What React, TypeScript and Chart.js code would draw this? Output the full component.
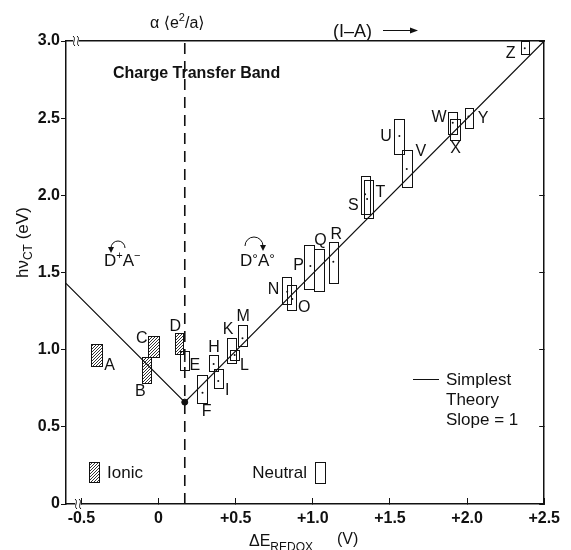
import React, { useEffect, useRef } from 'react';
import { Chart, registerables } from 'chart.js';

Chart.register(...registerables);

const FONT = '"Liberation Sans", Arial, Helvetica, "DejaVu Sans", sans-serif';

// ---- data ----
const boxNames = ['A', 'B', 'C', 'D', 'E', 'F', 'H', 'I', 'K', 'L', 'M', 'N', 'O', 'P', 'Q', 'R', 'S', 'T', 'U', 'V', 'W', 'X', 'Y', 'Z'];
const boxIonic = [true, true, true, true, false, false, false, false, false, false, false, false, false, false, false, false, false, false, false, false, false, false, false, false];
const boxXLow = [-0.436, -0.108, -0.066, 0.104, 0.136, 0.251, 0.327, 0.359, 0.444, 0.466, 0.515, 0.802, 0.834, 0.946, 1.008, 1.108, 1.314, 1.333, 1.529, 1.580, 1.875, 1.888, 1.985, 2.349];
const boxXHigh = [-0.368, -0.049, 0.006, 0.159, 0.200, 0.317, 0.387, 0.419, 0.499, 0.521, 0.574, 0.859, 0.893, 1.006, 1.070, 1.165, 1.371, 1.390, 1.594, 1.645, 1.932, 1.956, 2.041, 2.400];
const boxYLow = [0.894, 0.786, 0.955, 0.970, 0.866, 0.653, 0.860, 0.752, 0.912, 0.933, 1.024, 1.296, 1.257, 1.395, 1.382, 1.432, 1.879, 1.853, 2.266, 2.053, 2.398, 2.359, 2.439, 2.914];
const boxYHigh = [1.039, 0.955, 1.091, 1.106, 0.994, 0.836, 0.968, 0.873, 1.074, 0.998, 1.160, 1.473, 1.419, 1.677, 1.655, 1.698, 2.126, 2.100, 2.495, 2.294, 2.542, 2.493, 2.568, 3.000];
const labelX = [-0.317, -0.118, -0.108, 0.108, 0.235, 0.311, 0.359, 0.445, 0.451, 0.557, 0.548, 0.746, 0.944, 0.908, 1.050, 1.152, 1.263, 1.438, 1.475, 1.700, 1.818, 1.925, 2.103, 2.282];
const labelY = [0.899, 0.730, 1.071, 1.149, 0.896, 0.601, 1.011, 0.736, 1.131, 0.896, 1.214, 1.389, 1.275, 1.546, 1.708, 1.745, 1.935, 2.016, 2.380, 2.281, 2.502, 2.305, 2.496, 2.920];

const dotX = [0.170, 0.285, 0.357, 0.387, 0.493, 0.544, 0.834, 0.867, 0.984, 1.133, 1.339, 1.352, 1.561, 1.609, 1.907, 2.009, 2.374];
const dotY = [0.927, 0.721, 0.907, 0.797, 0.966, 1.074, 1.376, 1.329, 1.542, 1.570, 2.007, 1.977, 2.385, 2.171, 2.471, 2.510, 2.953];

const theoryX = [-0.6, 0.17, 2.5];
const theoryY = [1.43, 0.66, 3.0];
const minPointX = [0.17];
const minPointY = [0.66];
const alphaX = [0.17, 0.17];
const alphaY = [0, 3.02];

const xTicks = [-0.5, 0, 0.5, 1.0, 1.5, 2.0, 2.5];
const xTickLabels = ['-0.5', '0', '+0.5', '+1.0', '+1.5', '+2.0', '+2.5'];
const yTicks = [0, 0.5, 1.0, 1.5, 2.0, 2.5, 3.0];
const yTickLabels = ['0', '0.5', '1.0', '1.5', '2.0', '2.5', '3.0'];

const X_MIN = -0.6;
const X_MAX = 2.5;
const Y_MIN = 0;
const Y_MAX = 3.0;

// ---- helpers ----
function font(size: number, bold = false) {
  return `${bold ? 'bold ' : ''}${size}px ${FONT}`;
}

function makeHatch(ctx: CanvasRenderingContext2D) {
  const c = document.createElement('canvas');
  c.width = 3;
  c.height = 3;
  const g = c.getContext('2d')!;
  g.strokeStyle = '#333';
  g.lineWidth = 1;
  g.beginPath();
  g.moveTo(0, 3); g.lineTo(3, 0);
  g.moveTo(-1, 1); g.lineTo(1, -1);
  g.moveTo(2, 4); g.lineTo(4, 2);
  g.stroke();
  return ctx.createPattern(c, 'repeat');
}

function drawBox(ctx: CanvasRenderingContext2D, x1: number, y1: number, x2: number, y2: number, ionic: boolean, hatch: CanvasPattern | null) {
  const l = Math.round(Math.min(x1, x2)) + 0.5;
  const r = Math.round(Math.max(x1, x2)) + 0.5;
  const t = Math.round(Math.min(y1, y2)) + 0.5;
  const b = Math.round(Math.max(y1, y2)) + 0.5;
  if (ionic && hatch) {
    ctx.fillStyle = hatch;
    ctx.fillRect(l, t, r - l, b - t);
  }
  ctx.strokeStyle = '#111';
  ctx.lineWidth = 1;
  ctx.strokeRect(l, t, r - l, b - t);
}

// draw a run of [text, size, dy] pieces starting at x (alphabetic baseline y)
function runs(ctx: CanvasRenderingContext2D, x: number, y: number, pieces: [string, number, number][], bold = false) {
  ctx.textAlign = 'left';
  ctx.textBaseline = 'alphabetic';
  let cx = x;
  for (const [s, size, dy] of pieces) {
    ctx.font = font(size, bold);
    ctx.fillText(s, cx, y + dy);
    cx += ctx.measureText(s).width;
  }
  return cx;
}

function arcArrow(ctx: CanvasRenderingContext2D, cx: number, cy: number, r: number, headAtLeft: boolean) {
  ctx.strokeStyle = '#111';
  ctx.lineWidth = 1;
  ctx.beginPath();
  ctx.arc(cx, cy, r, Math.PI, 0, false);
  ctx.stroke();
  const hx = headAtLeft ? cx - r : cx + r;
  const hy = cy + 1;
  ctx.fillStyle = '#111';
  ctx.beginPath();
  ctx.moveTo(hx - 3, hy - 2);
  ctx.lineTo(hx + 3, hy - 2);
  ctx.lineTo(hx, hy + 4);
  ctx.closePath();
  ctx.fill();
}

function breakMark(ctx: CanvasRenderingContext2D, x: number, y: number) {
  ctx.fillStyle = '#fff';
  ctx.fillRect(x - 1, y - 2, 6, 4);
  ctx.strokeStyle = '#111';
  ctx.lineWidth = 1;
  for (const dx of [0, 4]) {
    ctx.beginPath();
    ctx.moveTo(x + dx - 1, y - 5);
    ctx.bezierCurveTo(x + dx + 3, y - 2, x + dx - 3, y + 2, x + dx + 1, y + 5);
    ctx.stroke();
  }
}

const boxesPlugin = {
  id: 'boxes',
  beforeDatasetsDraw(chart: any) {
    const { ctx, scales } = chart;
    const xs = scales.x;
    const ys = scales.y;
    const hatch = makeHatch(ctx);
    ctx.save();
    for (let i = 0; i < boxNames.length; i++) {
      drawBox(
        ctx,
        xs.getPixelForValue(boxXLow[i]),
        ys.getPixelForValue(boxYLow[i]),
        xs.getPixelForValue(boxXHigh[i]),
        ys.getPixelForValue(boxYHigh[i]),
        boxIonic[i],
        hatch,
      );
    }
    ctx.restore();
  },
};

const annotationsPlugin = {
  id: 'annotations',
  afterDraw(chart: any) {
    const { ctx, scales, chartArea } = chart;
    const xs = scales.x;
    const ys = scales.y;
    const L = chartArea.left;
    const T = chartArea.top;
    const B = chartArea.bottom;
    ctx.save();
    ctx.fillStyle = '#111';

    // compound labels
    ctx.font = font(16);
    ctx.textAlign = 'center';
    ctx.textBaseline = 'middle';
    for (let i = 0; i < boxNames.length; i++) {
      ctx.fillText(boxNames[i], xs.getPixelForValue(labelX[i]), ys.getPixelForValue(labelY[i]));
    }

    // titles inside / above plot
    runs(ctx, 113, 78, [['Charge Transfer Band', 16, 0]], true);
    runs(ctx, 150, 28, [['α \u27E8e', 16, 0], ['2', 11, -7], ['/a\u27E9', 16, 0]]);
    runs(ctx, 333, 37, [['(I\u2013A)', 18, 0]]);
    ctx.strokeStyle = '#111';
    ctx.lineWidth = 1;
    ctx.beginPath();
    ctx.moveTo(383, 30.5);
    ctx.lineTo(412, 30.5);
    ctx.stroke();
    ctx.beginPath();
    ctx.moveTo(418, 30.5);
    ctx.lineTo(410, 27.5);
    ctx.lineTo(410, 33.5);
    ctx.closePath();
    ctx.fill();

    // D+A- and D°A°
    runs(ctx, 104, 266, [['D', 17, 0], ['+', 11, -7], ['A', 17, 0], ['\u2212', 11, -7]]);
    arcArrow(ctx, 118, 248, 7, true);
    runs(ctx, 240, 266, [['D', 17, 0], ['°', 14, -2], ['A', 17, 0], ['°', 14, -2]]);
    arcArrow(ctx, 254, 246, 9, false);

    // theory legend
    ctx.beginPath();
    ctx.moveTo(413, 379.5);
    ctx.lineTo(439, 379.5);
    ctx.lineWidth = 1;
    ctx.stroke();
    ctx.font = font(17);
    ctx.textAlign = 'left';
    ctx.textBaseline = 'middle';
    ctx.fillText('Simplest', 446, 380);
    ctx.fillText('Theory', 446, 400);
    ctx.fillText('Slope = 1', 446, 420);

    // ionic / neutral legend
    const hatch = makeHatch(ctx);
    drawBox(ctx, 89, 462, 99, 482, true, hatch);
    ctx.fillStyle = '#111';
    ctx.font = font(17);
    ctx.textAlign = 'left';
    ctx.textBaseline = 'middle';
    ctx.fillText('Ionic', 107, 473);
    ctx.textAlign = 'right';
    ctx.fillText('Neutral', 307, 473);
    drawBox(ctx, 315, 462, 325, 483, false, null);

    // axis breaks
    breakMark(ctx, L + 8, T);
    breakMark(ctx, L + 10, B);

    // y axis title (rotated)
    ctx.save();
    ctx.translate(28, 278);
    ctx.rotate(-Math.PI / 2);
    ctx.fillStyle = '#111';
    runs(ctx, 0, 0, [['hν', 17, 0], ['CT', 12, 4], [' (eV)', 17, 0]]);
    ctx.restore();

    // x axis title
    ctx.fillStyle = '#111';
    runs(ctx, 249, 546, [['ΔE', 16, 0], ['REDOX', 12, 5]]);
    runs(ctx, 337, 544, [['(V)', 16, 0]]);

    ctx.restore();
  },
};

export default function App() {
  const ref = useRef<HTMLCanvasElement>(null);

  useEffect(() => {
    const canvas = ref.current;
    if (!canvas) return;

    const axisColor = '#111';
    const chart = new Chart(canvas, {
      type: 'scatter',
      data: {
        datasets: [
          {
            label: 'Simplest Theory',
            data: theoryX.map((x, i) => ({ x, y: theoryY[i] })),
            showLine: true,
            borderColor: '#111',
            borderWidth: 1.2,
            pointRadius: 0,
            fill: false,
          },
          {
            label: 'alpha',
            data: alphaX.map((x, i) => ({ x, y: alphaY[i] })),
            showLine: true,
            borderColor: '#111',
            borderWidth: 1.6,
            borderDash: [11, 7],
            pointRadius: 0,
            fill: false,
            clip: false as any,
          },
          {
            label: 'min',
            data: minPointX.map((x, i) => ({ x, y: minPointY[i] })),
            pointRadius: 3,
            backgroundColor: '#111',
            borderColor: '#111',
          },
          {
            label: 'centres',
            data: dotX.map((x, i) => ({ x, y: dotY[i] })),
            pointRadius: 1,
            backgroundColor: '#111',
            borderColor: '#111',
            borderWidth: 0,
          },
        ],
      },
      options: {
        responsive: false,
        animation: false,
        devicePixelRatio: 1,
        layout: { padding: { left: 0, right: 18, top: 41, bottom: 0 } },
        plugins: {
          legend: { display: false },
          tooltip: { enabled: false },
        },
        scales: {
          x: {
            type: 'linear',
            position: 'bottom',
            min: X_MIN,
            max: X_MAX,
            afterBuildTicks: (s: any) => { s.ticks = xTicks.map((v) => ({ value: v })); },
            afterFit: (s: any) => { s.height = 46; },
            ticks: {
              autoSkip: false,
              maxRotation: 0,
              padding: 11,
              color: axisColor,
              font: { family: FONT, size: 16, weight: 'bold' },
              callback: (v: any) => {
                const i = xTicks.indexOf(Number(v));
                return i >= 0 ? xTickLabels[i] : '';
              },
            },
            grid: { display: true, drawOnChartArea: false, drawTicks: true, tickLength: -6, color: axisColor, lineWidth: 1 },
            border: { display: true, color: axisColor, width: 1.5 },
          },
          x2: {
            type: 'linear',
            position: 'top',
            min: X_MIN,
            max: X_MAX,
            afterFit: (s: any) => { s.height = 0; },
            ticks: { display: false },
            grid: { display: false },
            border: { display: true, color: axisColor, width: 1.5 },
          },
          y: {
            type: 'linear',
            position: 'left',
            min: Y_MIN,
            max: Y_MAX,
            afterBuildTicks: (s: any) => { s.ticks = yTicks.map((v) => ({ value: v })); },
            afterFit: (s: any) => { s.width = 66; },
            ticks: {
              autoSkip: false,
              padding: 1,
              color: axisColor,
              font: { family: FONT, size: 16, weight: 'bold' },
              callback: (v: any) => {
                const i = yTicks.indexOf(Number(v));
                return i >= 0 ? yTickLabels[i] : '';
              },
            },
            grid: { display: true, drawOnChartArea: false, drawTicks: true, tickLength: 5, color: axisColor, lineWidth: 1 },
            border: { display: true, color: axisColor, width: 1.5 },
          },
          y2: {
            type: 'linear',
            position: 'right',
            min: Y_MIN,
            max: Y_MAX,
            afterBuildTicks: (s: any) => { s.ticks = yTicks.map((v) => ({ value: v })); },
            afterFit: (s: any) => { s.width = 0; },
            ticks: { display: false },
            grid: { display: true, drawOnChartArea: false, drawTicks: true, tickLength: -5, color: axisColor, lineWidth: 1 },
            border: { display: true, color: axisColor, width: 1.5 },
          },
        },
      } as any,
      plugins: [boxesPlugin, annotationsPlugin],
    });

    return () => chart.destroy();
  }, []);

  return (
    <div style={{ position: 'absolute', left: 0, top: 0, width: 571, height: 550, background: '#fff' }}>
      <canvas ref={ref} width={571} height={550} style={{ display: 'block', width: 571, height: 550 }} />
    </div>
  );
}
